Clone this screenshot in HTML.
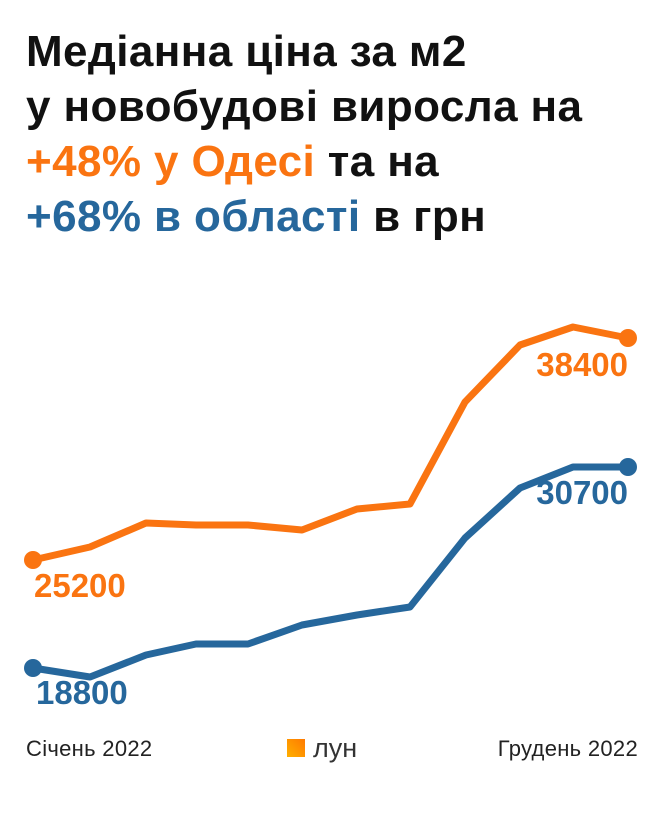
<!DOCTYPE html>
<html><head><meta charset="utf-8"><style>
body{margin:0;width:664px;height:814px;background:#fff;font-family:"Liberation Sans",sans-serif;overflow:hidden;position:relative}
h1{position:absolute;left:26px;top:24px;margin:0;font-size:44px;line-height:55px;font-weight:bold;color:#111;letter-spacing:0.4px;white-space:nowrap}
.o{color:#fa7411}.b{color:#26679c}
svg{position:absolute;left:0;top:0}
.f{position:absolute;top:736px;font-size:22px;letter-spacing:0.3px;color:#222}
</style></head><body>
<h1>Медіанна ціна за м2<br>у новобудові виросла на<br><span class="o">+48% у Одесі</span> та на<br><span class="b">+68% в області</span> в грн</h1>
<svg width="664" height="814">
<polyline fill="none" stroke="#fa7411" stroke-width="7" stroke-linejoin="round" points="33,560 90,547 146,523 196,525 248,525 302,530 357,509 410,504 465,402 520,345 573,327 628,338"/>
<polyline fill="none" stroke="#26679c" stroke-width="7" stroke-linejoin="round" points="33,668 90,677 146,655 196,644 248,644 302,625 357,615 410,607 465,538 520,488 573,467 628,467"/>
<circle cx="33" cy="560" r="9" fill="#fa7411"/><circle cx="628" cy="338" r="9" fill="#fa7411"/>
<circle cx="33" cy="668" r="9" fill="#26679c"/><circle cx="628" cy="467" r="9" fill="#26679c"/>
<g font-family="Liberation Sans" font-weight="bold" font-size="33">
<text x="34" y="597" fill="#fa7411">25200</text>
<text x="628" y="376" fill="#fa7411" text-anchor="end">38400</text>
<text x="36" y="704" fill="#26679c">18800</text>
<text x="628" y="504" fill="#26679c" text-anchor="end">30700</text>
</g>
<defs><linearGradient id="g" x1="0" y1="1" x2="1" y2="0"><stop offset="0" stop-color="#ffb000"/><stop offset="1" stop-color="#ff7a00"/></linearGradient></defs>
<rect x="287" y="739" width="18" height="18" fill="url(#g)"/>
<text x="313" y="757" font-family="Liberation Sans" font-size="27" fill="#333">лун</text>
</svg>
<div class="f" style="left:26px">Січень 2022</div>
<div class="f" style="right:26px">Грудень 2022</div>
</body></html>
